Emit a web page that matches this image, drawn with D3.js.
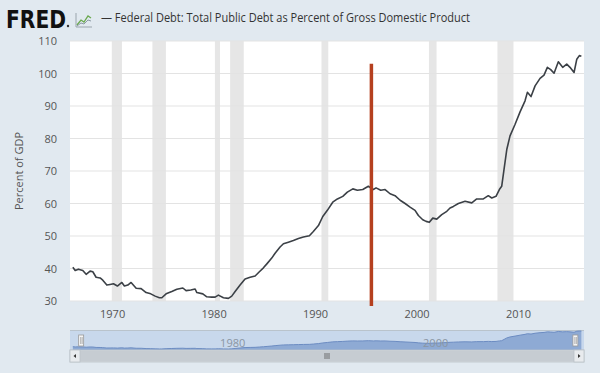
<!DOCTYPE html>
<html>
<head>
<meta charset="utf-8">
<script src="https://cdn.jsdelivr.net/npm/d3@7"></script>
<style>
  body { margin: 0; background: #e1e9f0; }
  svg { display: block; }
</style>
</head>
<body>
<svg id="chart" width="600" height="373"></svg>
<script>
// data (decimal year, percent of GDP)
const years = [1966.08,1966.31,1966.63,1967.06,1967.39,1967.78,1968.05,1968.37,1968.77,1969.03,1969.43,1969.75,
  1970.08,1970.47,1970.91,1971.16,1971.5,1971.82,1972.32,1972.81,1973.3,1973.76,1974.19,1974.61,1974.85,
  1975.27,1975.83,1976.33,1976.92,1977.24,1977.7,1978.13,1978.3,1978.89,1979.28,1979.77,1980.1,1980.42,
  1980.92,1981.41,1981.74,1982.07,1982.56,1983.05,1983.55,1984.04,1984.46,1984.86,1985.22,1985.68,1986.01,
  1986.5,1986.83,1987.32,1987.81,1988.31,1988.8,1989.39,1989.78,1990.28,1990.71,1991.16,1991.69,1992.15,
  1992.68,1993.13,1993.67,1994.12,1994.65,1995.2,1995.69,1995.96,1996.42,1996.85,1997.34,1997.83,1998.33,
  1998.82,1999.31,1999.8,2000.13,2000.56,2000.89,2001.21,2001.55,2001.94,2002.43,2002.93,2003.25,2003.58,
  2004.07,2004.73,2005.39,2005.88,2006.53,2007.02,2007.36,2007.78,2008.11,2008.34,2008.57,2008.84,2009.16,
  2009.66,2010.15,2010.64,2010.87,2011.23,2011.63,2012.12,2012.51,2012.84,2013.17,2013.5,2013.92,2014.35,
  2014.75,2015.07,2015.47,2015.74,2015.99,2016.19]
const debt = [40.4,39.4,39.8,39.4,38.2,39.2,39.0,37.3,37.1,36.4,34.9,35.1,
  35.3,34.6,35.7,34.6,34.9,35.7,33.9,33.8,32.6,32.2,31.5,31.0,31.0,
  32.2,32.9,33.6,34.0,33.2,33.4,33.7,32.6,32.2,31.3,31.2,31.2,31.8,
  31.0,30.8,31.5,32.9,34.9,36.8,37.3,37.7,39.0,40.2,41.5,43.2,44.7,
  46.6,47.6,48.1,48.6,49.2,49.7,50.1,51.4,53.2,56.0,57.9,60.4,61.4,
  62.2,63.5,64.5,64.1,64.3,65.3,64.3,64.8,64.1,64.3,63.0,62.4,61.0,
  60.0,58.9,57.9,56.3,55.0,54.5,54.2,55.5,55.2,56.6,57.6,58.6,59.1,
  60.0,60.7,60.2,61.4,61.4,62.4,61.7,62.2,64.3,65.3,70.5,76.6,80.8,
  84.4,88.2,91.6,94.2,92.9,96.2,98.5,99.5,101.9,101.2,100.1,103.6,101.9,
  102.9,101.9,100.3,104.4,105.5,105.3]

const recessions = [[1969.92,1970.92],[1973.92,1975.25],[1980.08,1980.58],[1981.58,1982.92],
  [1990.58,1991.25],[2001.17,2001.92],[2007.92,2009.5]]
const yTicks = [30,40,50,60,70,80,90,100,110]
const xTicks = [1970,1980,1990,2000,2010]
const navTicks = [1980,2000]
const markYear = 1995.5, markTop = 103

const title = '\u2014 Federal Debt: Total Public Debt as Percent of Gross Domestic Product'
const font = '"Open Sans", sans-serif'

const svg = d3.select('#chart')
const pL = 70, pR = 584, pT = 41, pB = 301

const x = d3.scaleLinear().domain([1965.8, 2016.45]).range([pL, pR])
const y = d3.scaleLinear().domain([30, 110]).range([pB, pT])

svg.append('rect').attr('width', 600).attr('height', 373).attr('fill', '#e1e9f0')

// header
svg.append('text').attr('x', 6).attr('y', 28)
  .attr('font-family', '"DejaVu Sans", sans-serif').attr('font-weight', 'bold')
  .attr('font-size', 24).attr('fill', '#111')
  .attr('textLength', 60).attr('lengthAdjust', 'spacingAndGlyphs')
  .text('FRED')
svg.append('circle').attr('cx', 68).attr('cy', 26).attr('r', 1.2).attr('fill', '#333')
const icon = svg.append('g').attr('transform', 'translate(75,12)')
icon.append('path').attr('d', 'M1 15 L1 1 M1 15 L17 15').attr('stroke', '#9aa5ad').attr('fill', 'none')
icon.append('path').attr('d', 'M2 13 L6 8 L9 10 L13 4 L16 6').attr('stroke', '#6aa84f').attr('stroke-width', 1.3).attr('fill', 'none')
icon.append('path').attr('d', 'M2 14 L6 11 L9 12 L13 8 L16 9').attr('stroke', '#8c9aa5').attr('fill', 'none')

svg.append('text').attr('x', 101).attr('y', 22)
  .attr('font-family', font).attr('font-size', 12).attr('fill', '#333')
  .attr('textLength', 369).attr('lengthAdjust', 'spacingAndGlyphs')
  .text(title)

// plot background
svg.append('rect').attr('x', pL).attr('y', pT).attr('width', pR - pL).attr('height', pB - pT)
  .attr('fill', '#fff')

// recession bars
svg.selectAll('rect.rec').data(recessions).enter().append('rect').attr('class', 'rec')
  .attr('x', (d) => x(d[0])).attr('width', (d) => x(d[1]) - x(d[0]))
  .attr('y', pT).attr('height', pB - pT).attr('fill', '#e6e6e6')

// grid
svg.selectAll('line.grid').data(yTicks).enter().append('line').attr('class', 'grid')
  .attr('x1', pL).attr('x2', pR).attr('y1', (d) => y(d)).attr('y2', (d) => y(d))
  .attr('stroke', '#e3e3e3').attr('stroke-width', 1)

// y axis labels
svg.selectAll('text.yl').data(yTicks).enter().append('text').attr('class', 'yl')
  .attr('x', 57).attr('y', (d) => y(d) + 4).attr('text-anchor', 'end')
  .attr('font-family', font).attr('font-size', 11).attr('fill', '#555')
  .text((d) => d)

svg.append('text').attr('transform', 'translate(23,' + ((pT + pB) / 2) + ') rotate(-90)')
  .attr('text-anchor', 'middle').attr('font-family', font).attr('font-size', 11).attr('fill', '#555')
  .text('Percent of GDP')

// x axis labels
svg.selectAll('text.xl').data(xTicks).enter().append('text').attr('class', 'xl')
  .attr('x', (d) => x(d)).attr('y', 318).attr('text-anchor', 'middle')
  .attr('font-family', font).attr('font-size', 11).attr('fill', '#555')
  .text((d) => d)

// series
const points = years.map((d, i) => [d, debt[i]])
const line = d3.line().x((d) => x(d[0])).y((d) => y(d[1]))
svg.append('path').datum(points).attr('d', line)
  .attr('fill', 'none').attr('stroke', '#3b4046').attr('stroke-width', 1.6).attr('stroke-linejoin', 'round')

// red marker
svg.append('line').attr('x1', x(markYear)).attr('x2', x(markYear))
  .attr('y1', y(markTop)).attr('y2', pB + 5)
  .attr('stroke', '#b5401f').attr('stroke-width', 3.5)

// navigator
const navTop = 330, navBottom = 350
const ny = d3.scaleLinear().domain(d3.extent(debt)).range([349, 331])
svg.append('rect').attr('x', pL).attr('y', navTop).attr('width', pR - pL).attr('height', navBottom - navTop)
  .attr('fill', '#c8d8ec')
svg.append('line').attr('x1', pL).attr('x2', pR).attr('y1', navTop + 0.5).attr('y2', navTop + 0.5)
  .attr('stroke', '#b9c3cc')
const area = d3.area().x((d) => x(d[0])).y0(navBottom).y1((d) => ny(d[1]))
svg.append('path').datum(points).attr('d', area).attr('fill', '#8eaad4')
svg.append('path').datum(points).attr('d', d3.line().x((d) => x(d[0])).y((d) => ny(d[1])))
  .attr('fill', 'none').attr('stroke', '#6c8cc2').attr('stroke-width', 1)
svg.selectAll('text.nl').data(navTicks).enter().append('text').attr('class', 'nl')
  .attr('x', (d) => x(d) + 6).attr('y', 347)
  .attr('font-family', font).attr('font-size', 11).attr('fill', '#8a96a3')
  .text((d) => d)

// handles
;[x(1966.9), x(2015.6)].forEach((hx) => {
  svg.append('rect').attr('x', hx - 2.5).attr('y', 335).attr('width', 5).attr('height', 11)
    .attr('fill', '#f4f4f4').attr('stroke', '#999').attr('stroke-width', 0.8)
  svg.append('line').attr('x1', hx - 0.5).attr('x2', hx - 0.5).attr('y1', 337).attr('y2', 344).attr('stroke', '#888').attr('stroke-width', 0.6)
  svg.append('line').attr('x1', hx + 1).attr('x2', hx + 1).attr('y1', 337).attr('y2', 344).attr('stroke', '#888').attr('stroke-width', 0.6)
})

// scrollbar
svg.append('rect').attr('x', pL).attr('y', 350).attr('width', pR - pL).attr('height', 12)
  .attr('fill', '#d7dce1').attr('stroke', '#bbc2c9').attr('stroke-width', 0.8)
svg.append('rect').attr('x', pL + 10).attr('y', 350.5).attr('width', pR - pL - 20).attr('height', 11)
  .attr('fill', '#c6ccd2')
svg.append('rect').attr('x', pL).attr('y', 350).attr('width', 10).attr('height', 12)
  .attr('fill', '#e8ebee').attr('stroke', '#bbc2c9').attr('stroke-width', 0.8)
svg.append('rect').attr('x', pR - 10).attr('y', 350).attr('width', 10).attr('height', 12)
  .attr('fill', '#e8ebee').attr('stroke', '#bbc2c9').attr('stroke-width', 0.8)
svg.append('path').attr('d', `M${pL + 3.5} 356 L${pL + 6} 354 L${pL + 6} 358 Z`).attr('fill', '#333')
svg.append('path').attr('d', `M${pR - 3.5} 356 L${pR - 6} 354 L${pR - 6} 358 Z`).attr('fill', '#333')
const gx = (pL + pR) / 2
;[-2, 0, 2].forEach((o) => {
  svg.append('line').attr('x1', gx + o).attr('x2', gx + o).attr('y1', 353).attr('y2', 359)
    .attr('stroke', '#555').attr('stroke-width', 0.8)
})
</script>
</body>
</html>
